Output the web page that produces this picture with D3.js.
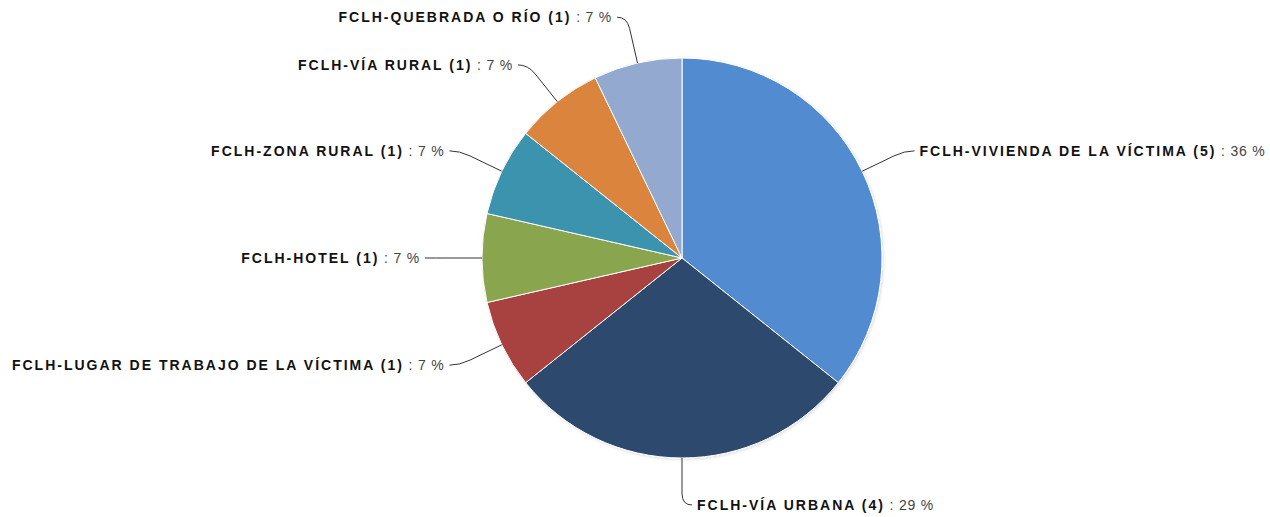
<!DOCTYPE html>
<html><head><meta charset="utf-8">
<script src="https://cdn.jsdelivr.net/npm/d3@7"></script>
<style>html,body{margin:0;padding:0;background:#fff;}svg{display:block;}</style>
</head><body>
<svg id="chart" width="1270" height="517"></svg>
<script>
const categories = ["FCLH-VIVIENDA DE LA VÍCTIMA","FCLH-VÍA URBANA","FCLH-LUGAR DE TRABAJO DE LA VÍCTIMA","FCLH-HOTEL","FCLH-ZONA RURAL","FCLH-VÍA RURAL","FCLH-QUEBRADA O RÍO"];
const values = [5,4,1,1,1,1,1];
const percents = ["36","29","7","7","7","7","7"];
const colors = ["#528bd0","#2d4a6e","#a8423f","#89a54e","#3b93ae","#db843d","#93a9d0"];

const svg = d3.select("#chart");
const cx = 682, cy = 258, r = 200, rl = 247;
const defs = svg.append("defs");
const f = defs.append("filter").attr("id","sh").attr("x","-10%").attr("y","-10%").attr("width","120%").attr("height","120%");
f.append("feDropShadow").attr("dx",1).attr("dy",1).attr("stdDeviation",1.5).attr("flood-color","#000").attr("flood-opacity",0.15);

const g = svg.append("g").attr("transform",`translate(${cx},${cy})`);
const data = categories.map((c,i)=>({name:c,value:values[i],pct:percents[i],color:colors[i]}));
const pie = d3.pie().sort(null).value(d=>d.value);
const arcs = pie(data);
const arc = d3.arc().innerRadius(0).outerRadius(r);

g.append("g").attr("filter","url(#sh)").selectAll("path").data(arcs).join("path")
  .attr("d",arc).attr("fill",d=>d.data.color).attr("stroke","#fff").attr("stroke-width",1).attr("stroke-linejoin","round");

const pol = (a,rad)=>[rad*Math.sin(a), -rad*Math.cos(a)];
arcs.forEach(d=>{
  const a = (d.startAngle+d.endAngle)/2;
  const e = pol(a,r);
  const p = pol(a,rl);
  const right = Math.sin(a) > 1e-6 || (Math.abs(Math.sin(a))<1e-6 && Math.cos(a)<0);
  const dir = right ? 1 : -1;
  const end = [p[0]+dir*10, p[1]];
  const m = [e[0]+(p[0]-e[0])*0.75, e[1]+(p[1]-e[1])*0.75];
  g.append("path")
    .attr("d",`M${e[0]},${e[1]}L${m[0]},${m[1]}Q${p[0]},${p[1]} ${end[0]},${end[1]}`)
    .attr("fill","none").attr("stroke","#333").attr("stroke-width",1);
  const t = g.append("text")
    .attr("x",p[0]+dir*15).attr("y",p[1]).attr("dy","0.35em")
    .attr("text-anchor",right?"start":"end")
    .style("font-family","'Liberation Sans',Arial,sans-serif").style("font-size","14px")
    .style("letter-spacing","2px");
  t.append("tspan").attr("font-weight","bold").attr("fill","#111").text(`${d.data.name} (${d.data.value})`);
  t.append("tspan").attr("fill","#444").style("letter-spacing","0.8px").text(` : ${d.data.pct} %`);
});
</script>
</body></html>
